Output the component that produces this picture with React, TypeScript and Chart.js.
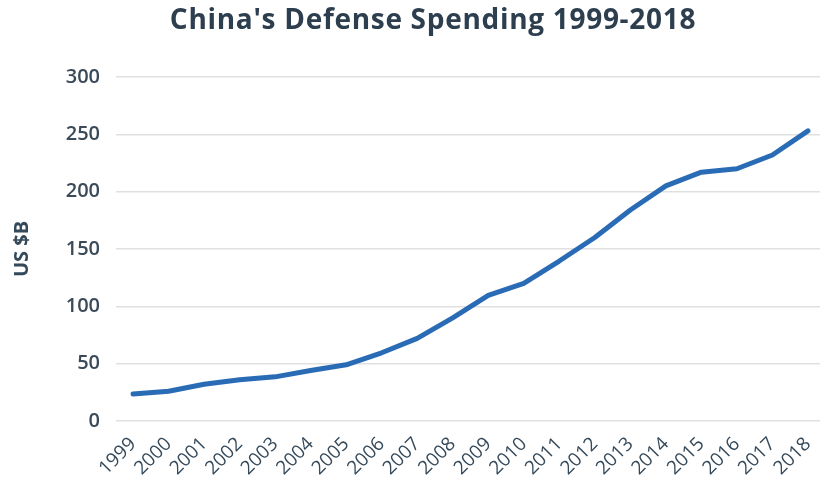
import React, { useEffect, useRef } from "react";
import { Chart, registerables } from "chart.js";

Chart.register(...registerables);

const TITLE = "China's Defense Spending 1999-2018";
const Y_TITLE = "US $B";
const YEARS = [1999, 2000, 2001, 2002, 2003, 2004, 2005, 2006, 2007, 2008, 2009, 2010, 2011, 2012, 2013, 2014, 2015, 2016, 2017, 2018];
const SPENDING = [23.5, 26, 32, 36, 38.5, 44, 49, 59.5, 72, 90, 109.5, 120, 139.5, 160, 184, 205, 217, 220, 232, 253];
const Y_MIN = 0;
const Y_MAX = 300;
const Y_STEP = 50;

const titlePlugin = {
  id: "customTitle",
  afterDraw(chart: any) {
    const ctx = chart.ctx;
    ctx.save();
    ctx.font = "bold 28px 'Open Sans'";
    try {
      (ctx as any).letterSpacing = "0.7px";
    } catch (e) {}
    ctx.fillStyle = "#2d3f4f";
    ctx.textAlign = "center";
    ctx.textBaseline = "middle";
    ctx.fillText(TITLE, 433, 21);
    ctx.restore();
  },
};

export default function App() {
  const ref = useRef<HTMLCanvasElement | null>(null);
  useEffect(() => {
    document.body.style.margin = "0";
    if (!ref.current) return;
    const chart = new Chart(ref.current, {
      type: "line",
      data: {
        datasets: [
          {
            label: "Defense spending",
            data: YEARS.map((yr, i) => ({ x: yr, y: SPENDING[i] })),
            borderColor: "#2a6bb6",
            borderWidth: 5,
            borderCapStyle: "round",
            borderJoinStyle: "round",
            pointRadius: 0,
            tension: 0,
            fill: false,
          },
        ],
      },
      options: {
        responsive: false,
        animation: false,
        layout: { padding: { top: 77, right: 0, left: 0, bottom: 0 } },
        plugins: { legend: { display: false }, title: { display: false }, tooltip: { enabled: false } },
        scales: {
          x: {
            type: "linear",
            min: 1998.52,
            max: 2018.34,
            grid: { display: false, drawTicks: false },
            border: { display: false },
            ticks: {
              stepSize: 1,
              includeBounds: false,
              autoSkip: false,
              minRotation: 45,
              maxRotation: 45,
              padding: 12,
              color: "#34495a",
              font: { family: "'Open Sans'", size: 19 },
              callback: (v: any) => String(v),
            },
            afterFit: (s: any) => {
              s.height = 62;
              s.paddingLeft = 0;
              s.paddingRight = 0;
            },
          },
          y: {
            min: Y_MIN,
            max: Y_MAX,
            grid: { color: "#e0e0e0", lineWidth: 1.5, drawTicks: false },
            border: { display: false },
            ticks: {
              stepSize: Y_STEP,
              padding: 16,
              color: "#3a4a58",
              font: { family: "'Open Sans'", size: 20, weight: "600" },
            },
            title: {
              display: true,
              text: Y_TITLE,
              color: "#34495a",
              padding: { top: 10, bottom: 0 },
              font: { family: "'Open Sans'", size: 20, weight: "bold" },
            },
            afterFit: (s: any) => {
              s.width = 116;
            },
          },
        },
      },
      plugins: [titlePlugin],
    });
    return () => chart.destroy();
  }, []);
  return <canvas ref={ref} width={820} height={483} style={{ display: "block" }} />;
}
